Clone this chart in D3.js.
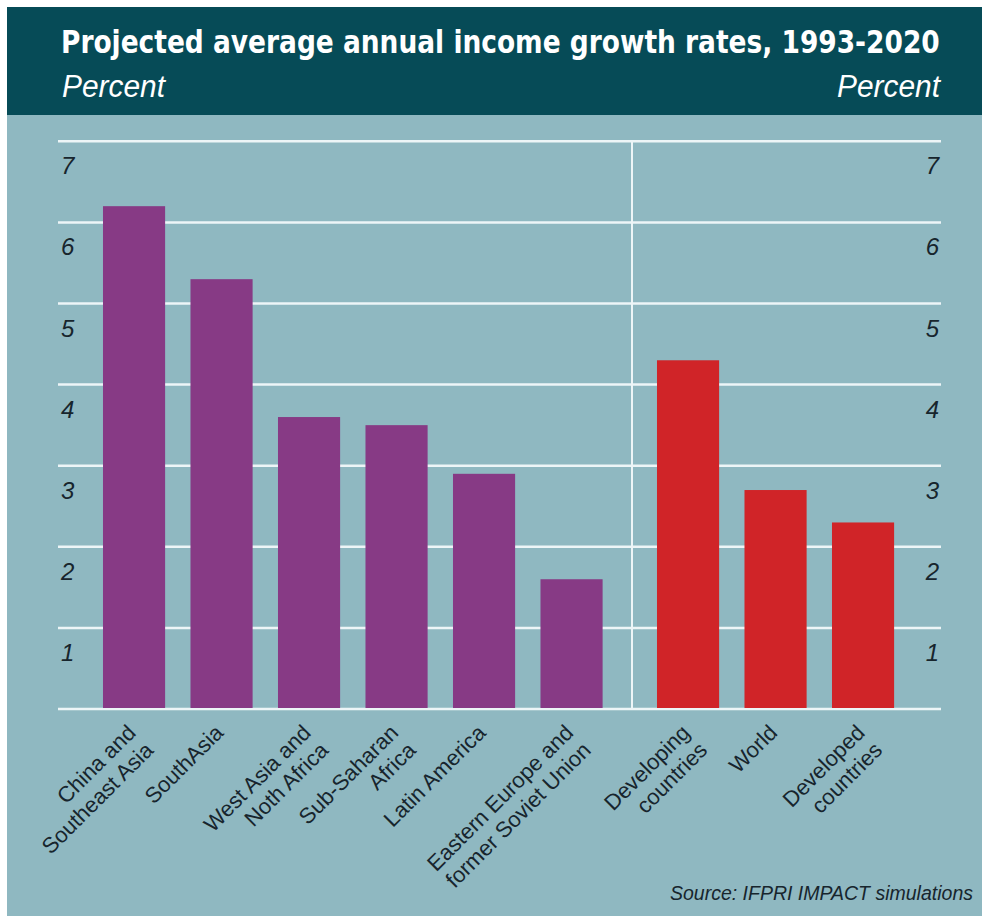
<!DOCTYPE html>
<html>
<head>
<meta charset="utf-8">
<script src="https://cdn.jsdelivr.net/npm/d3@7"></script>
<style>
  html, body { margin: 0; padding: 0; background: #ffffff; }
  svg { display: block; }
</style>
</head>
<body>
<svg id="chart" width="982" height="916"></svg>
<script>
// Regional projections (left panel)
const regions = [
  "China and\nSoutheast Asia",
  "SouthAsia",
  "West Asia and\nNoth Africa",
  "Sub-Saharan\nAfrica",
  "Latin America",
  "Eastern Europe and\nformer Soviet Union"
];
const regionValues = [6.2, 5.3, 3.6, 3.5, 2.9, 1.6];

// Aggregate projections (right panel)
const aggregates = [
  "Developing\ncountries",
  "World",
  "Developed\ncountries"
];
const aggregateValues = [4.3, 2.7, 2.3];

const yTicks = [1, 2, 3, 4, 5, 6, 7];

const titleText = "Projected average annual income growth rates, 1993-2020";
const unitText = "Percent";
const sourceText = "Source: IFPRI IMPACT simulations";

const COLORS = {
  page: "#8fb8c1",
  header: "#064b57",
  grid: "#edf5f7",
  region: "#873a85",
  aggregate: "#d02428",
  ink: "#17252d"
};

const svg = d3.select("#chart");

// Backgrounds
svg.append("rect").attr("x", 7).attr("y", 7).attr("width", 975).attr("height", 909)
  .attr("fill", COLORS.page);
svg.append("rect").attr("x", 7).attr("y", 7).attr("width", 975).attr("height", 108)
  .attr("fill", COLORS.header);

// Place a text so that it spans a given width, squeezing horizontally if needed
function fitText(sel, x, yPos, width, anchor) {
  const natural = sel.node().getComputedTextLength();
  const sx = width / natural;
  const left = anchor === "end" ? x - width : x;
  sel.attr("x", 0).attr("y", 0)
    .attr("transform", `translate(${left},${yPos}) scale(${sx},1)`);
}

// Header text
const title = svg.append("text")
  .attr("fill", "#ffffff")
  .attr("font-family", "'Liberation Sans Narrow', 'DejaVu Sans Condensed', 'Liberation Sans', sans-serif")
  .attr("font-weight", "bold")
  .attr("font-size", 32)
  .text(titleText);
fitText(title, 61, 53, 879, "start");

const unitLeft = svg.append("text")
  .attr("fill", "#ffffff")
  .attr("font-family", "'Liberation Sans', Arial, sans-serif")
  .attr("font-style", "italic")
  .attr("font-size", 31)
  .text(unitText);
fitText(unitLeft, 62, 97, 103, "start");

const unitRight = svg.append("text")
  .attr("fill", "#ffffff")
  .attr("font-family", "'Liberation Sans', Arial, sans-serif")
  .attr("font-style", "italic")
  .attr("font-size", 31)
  .text(unitText);
fitText(unitRight, 940, 97, 103, "end");

// Scales
const gridLeft = 58, gridRight = 941;
const y = d3.scaleLinear().domain([0, 7]).range([709, 141.3]);

const xRegion = d3.scaleBand().domain(regions)
  .range([90.3, 615.3]).paddingInner(0.29).paddingOuter(0.145);
const xAggregate = d3.scaleBand().domain(aggregates)
  .range([644.3, 906.8]).paddingInner(0.29).paddingOuter(0.145);

// Horizontal gridlines (baseline included)
svg.append("g").selectAll("line")
  .data([0].concat(yTicks))
  .join("line")
  .attr("x1", gridLeft).attr("x2", gridRight)
  .attr("y1", d => y(d)).attr("y2", d => y(d))
  .attr("stroke", COLORS.grid)
  .attr("stroke-width", 2.5);

// Panel divider
svg.append("line")
  .attr("x1", 632).attr("x2", 632)
  .attr("y1", y(7) - 1).attr("y2", y(0))
  .attr("stroke", COLORS.grid)
  .attr("stroke-width", 2);

// Axis tick labels, left and right
const tickFont = "'Liberation Sans', Arial, sans-serif";
svg.append("g").selectAll("text")
  .data(yTicks)
  .join("text")
  .attr("x", 61)
  .attr("y", d => y(d) + 33)
  .attr("fill", COLORS.ink)
  .attr("font-family", tickFont)
  .attr("font-style", "italic")
  .attr("font-size", 24)
  .text(d => d);

svg.append("g").selectAll("text")
  .data(yTicks)
  .join("text")
  .attr("x", 939)
  .attr("y", d => y(d) + 33)
  .attr("text-anchor", "end")
  .attr("fill", COLORS.ink)
  .attr("font-family", tickFont)
  .attr("font-style", "italic")
  .attr("font-size", 24)
  .text(d => d);

// Bars
const regionData = regions.map((c, i) => ({ c, v: regionValues[i] }));
const aggregateData = aggregates.map((c, i) => ({ c, v: aggregateValues[i] }));

svg.append("g").selectAll("rect")
  .data(regionData)
  .join("rect")
  .attr("x", d => xRegion(d.c))
  .attr("width", xRegion.bandwidth())
  .attr("y", d => y(d.v))
  .attr("height", d => y(0) - y(d.v) - 1)
  .attr("fill", COLORS.region);

svg.append("g").selectAll("rect")
  .data(aggregateData)
  .join("rect")
  .attr("x", d => xAggregate(d.c))
  .attr("width", xAggregate.bandwidth())
  .attr("y", d => y(d.v))
  .attr("height", d => y(0) - y(d.v) - 1)
  .attr("fill", COLORS.aggregate);

// Rotated category labels
function drawLabels(data, scale) {
  const g = svg.append("g");
  data.forEach(d => {
    const cx = scale(d.c) + scale.bandwidth() / 2 + 3;
    const t = g.append("text")
      .attr("transform", `translate(${cx},734) rotate(-45)`)
      .attr("text-anchor", "end")
      .attr("fill", COLORS.ink)
      .attr("font-family", tickFont)
      .attr("font-size", 22);
    d.c.split("\n").forEach((line, i) => {
      t.append("tspan")
        .attr("x", 0)
        .attr("dy", i === 0 ? 0 : "1.13em")
        .text(line);
    });
  });
}
drawLabels(regionData, xRegion);
drawLabels(aggregateData, xAggregate);

// Source note
svg.append("text")
  .attr("x", 973).attr("y", 900)
  .attr("text-anchor", "end")
  .attr("fill", COLORS.ink)
  .attr("font-family", tickFont)
  .attr("font-style", "italic")
  .attr("font-size", 19.5)
  .text(sourceText);
</script>
</body>
</html>
